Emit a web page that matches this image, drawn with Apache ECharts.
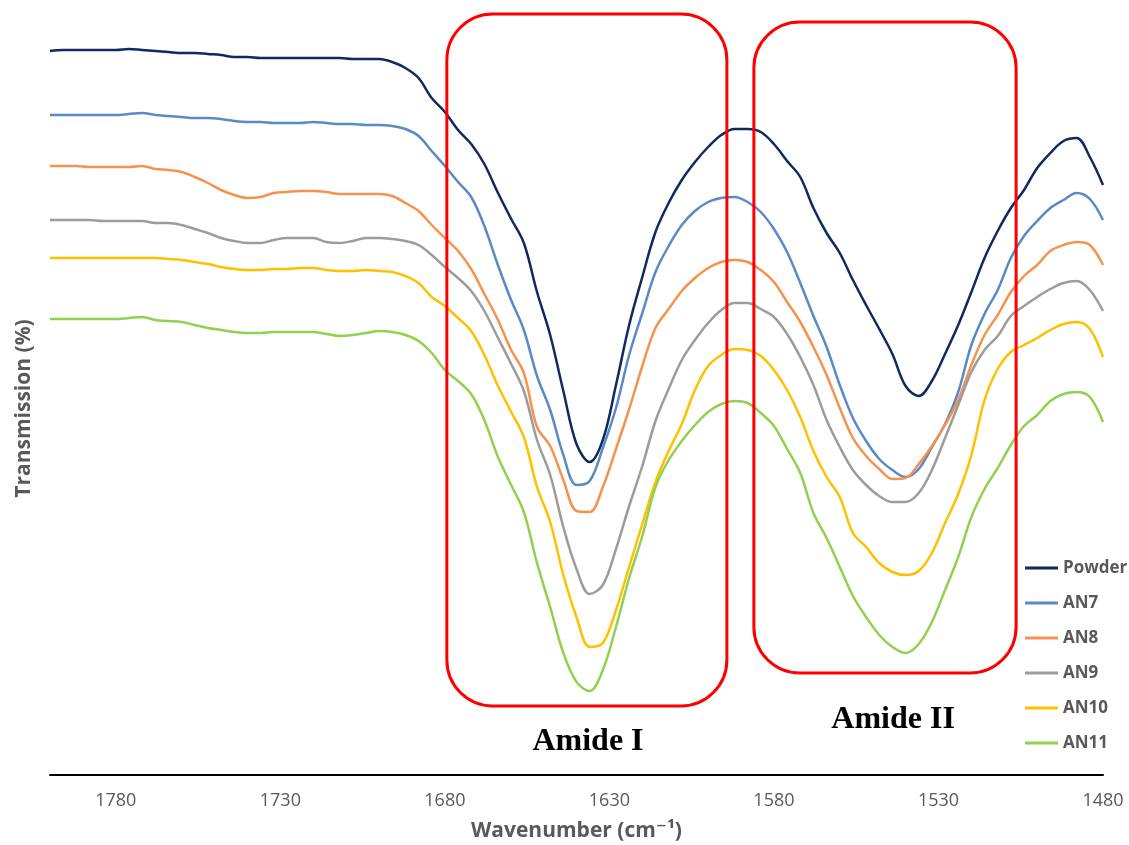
<!DOCTYPE html>
<html>
<head>
<meta charset="utf-8">
<script src="https://cdn.jsdelivr.net/npm/echarts@6/dist/echarts.min.js"></script>
<style>
  html, body { margin: 0; padding: 0; background: #ffffff; }
  #chart { width: 1129px; height: 845px; }
</style>
</head>
<body>
<div id="chart"></div>
<script>
// FTIR spectra, wavenumber in cm^-1 (decreasing to the right)
const wavenumbers = [
  1800, 1796, 1792, 1788, 1784, 1780, 1776, 1772, 1768, 1764,
  1760, 1756, 1752, 1748, 1744, 1740, 1736, 1732, 1728, 1724,
  1720, 1716, 1712, 1708, 1704, 1700, 1696, 1692, 1688, 1684,
  1680, 1676, 1672, 1668, 1664, 1660, 1656, 1652, 1648, 1644,
  1640, 1636, 1632, 1628, 1624, 1620, 1616, 1612, 1608, 1604,
  1600, 1596, 1592, 1588, 1584, 1580, 1576, 1572, 1568, 1564,
  1560, 1556, 1552, 1548, 1544, 1540, 1536, 1532, 1528, 1524,
  1520, 1516, 1512, 1508, 1504, 1500, 1496, 1492, 1488, 1484,
  1480
];

// Transmission traces (offset, arbitrary units)
const powder = [
  724, 725, 725, 725, 725, 725, 726, 725, 724, 723,
  722, 722, 721, 720, 718, 718, 717, 717, 717, 717,
  717, 717, 717, 716, 716, 716, 713, 707, 697, 677,
  663, 645, 631, 611, 583, 557, 532, 483, 440, 384,
  331, 313, 335, 390, 450, 498, 543, 572, 595, 613,
  628, 640, 646, 646, 643, 631, 614, 598, 567, 542,
  522, 495, 470, 446, 421, 389, 379, 394, 421, 450,
  483, 517, 544, 567, 585, 607, 622, 634, 637, 618,
  590
];
const an7 = [
  660, 660, 660, 660, 660, 660, 661, 662, 660, 659,
  658, 657, 657, 656, 654, 653, 653, 652, 652, 652,
  653, 652, 651, 651, 650, 650, 649, 646, 639, 624,
  609, 593, 578, 549, 511, 476, 445, 399, 365, 320,
  290, 294, 327, 367, 420, 462, 503, 529, 550, 564,
  573, 577, 578, 573, 563, 546, 523, 492, 459, 428,
  390, 357, 334, 316, 305, 298, 306, 328, 351, 383,
  430, 461, 485, 517, 539, 554, 567, 575, 582, 576,
  555
];
const an8 = [
  609, 609, 609, 608, 608, 608, 608, 609, 606, 605,
  603, 598, 592, 585, 580, 577, 578, 582, 583, 584,
  584, 583, 581, 581, 581, 581, 579, 572, 564, 550,
  537, 524, 506, 481, 456, 426, 402, 348, 329, 295,
  264, 263, 288, 326, 366, 409, 447, 466, 484, 497,
  507, 513, 515, 513, 505, 493, 473, 453, 428, 400,
  367, 337, 319, 306, 296, 297, 311, 329, 350, 375,
  410, 440, 460, 483, 499, 510, 524, 530, 533, 530,
  510
];
const an9 = [
  555, 555, 555, 555, 554, 554, 554, 554, 552, 552,
  550, 546, 542, 537, 534, 532, 532, 535, 537, 537,
  537, 533, 532, 534, 537, 537, 536, 534, 530, 520,
  508, 497, 484, 464, 438, 412, 384, 335, 300, 248,
  206, 181, 190, 226, 269, 309, 354, 386, 415, 435,
  452, 465, 472, 472, 466, 458, 441, 418, 390, 355,
  328, 305, 290, 279, 273, 273, 282, 305, 337, 370,
  403, 425, 439, 459, 469, 478, 486, 492, 494, 485,
  464
];
const an10 = [
  517, 517, 517, 517, 517, 517, 517, 517, 517, 516,
  515, 513, 511, 508, 506, 505, 505, 506, 506, 507,
  507, 505, 504, 504, 505, 504, 503, 499, 492, 478,
  469, 457, 444, 420, 390, 364, 338, 288, 253, 200,
  158, 128, 132, 165, 208, 251, 293, 324, 351, 385,
  409, 420, 426, 425, 419, 405, 385, 358, 324, 298,
  278, 242, 228, 212, 203, 200, 204, 222, 252, 281,
  320, 375, 406, 423, 430, 437, 445, 451, 453, 446,
  418
];
const an11 = [
  456, 456, 456, 456, 456, 456, 457, 458, 455, 454,
  453, 450, 447, 445, 443, 442, 442, 443, 443, 443,
  443, 441, 439, 440, 442, 444, 443, 440, 434, 422,
  405, 394, 381, 355, 319, 291, 263, 212, 168, 122,
  93, 84, 105, 148, 197, 239, 288, 315, 334, 350,
  363, 371, 374, 372, 362, 349, 326, 302, 262, 237,
  208, 179, 158, 140, 128, 122, 131, 153, 185, 218,
  258, 286, 307, 330, 349, 360, 374, 381, 383, 378,
  353
];

const seriesNames = ['Powder', 'AN7', 'AN8', 'AN9', 'AN10', 'AN11'];
const seriesValues = [powder, an7, an8, an9, an10, an11];
const seriesColors = ['#10295e', '#5a8ac6', '#f5934e', '#9c9c9c', '#ffc000', '#92d050'];

const xTickLabels = [1780, 1730, 1680, 1630, 1580, 1530, 1480];

// Highlighted band regions (wavenumber span, transmission span, label anchor)
const regionNames = ['Amide I', 'Amide II'];
const regionFrom = [1679.4, 1586.1];
const regionTo = [1594.3, 1506.4];
const regionHigh = [761, 753];
const regionLow = [69, 102];
const regionLabelX = [1636.5, 1543.8];
const regionLabelY = [33, 55];

const uiFont = '"Open Sans", "DejaVu Sans", sans-serif';

const lineSeries = seriesNames.map((name, i) => ({
  name: name,
  type: 'line',
  data: wavenumbers.map((w, k) => [w, seriesValues[i][k]]),
  showSymbol: false,
  smooth: 0.35,
  z: 2,
  lineStyle: { width: 2.5, color: seriesColors[i] },
  itemStyle: { color: seriesColors[i] }
}));

const regionSeries = {
  type: 'custom',
  silent: true,
  z: 5,
  data: regionNames.map((n, i) => [
    regionFrom[i], regionTo[i], regionHigh[i], regionLow[i], regionLabelX[i], regionLabelY[i]
  ]),
  encode: { x: [0, 1, 4], y: [2, 3, 5] },
  renderItem: function (params, api) {
    const a = api.coord([api.value(0), api.value(2)]);
    const b = api.coord([api.value(1), api.value(3)]);
    const t = api.coord([api.value(4), api.value(5)]);
    return {
      type: 'group',
      children: [
        {
          type: 'rect',
          shape: {
            x: Math.min(a[0], b[0]),
            y: Math.min(a[1], b[1]),
            width: Math.abs(b[0] - a[0]),
            height: Math.abs(b[1] - a[1]),
            r: 46
          },
          style: { fill: 'none', stroke: '#ff0000', lineWidth: 3 }
        },
        {
          type: 'text',
          x: t[0],
          y: t[1],
          style: {
            text: regionNames[params.dataIndex],
            fill: '#000000',
            font: 'bold 32px "Liberation Serif", "Times New Roman", serif',
            align: 'center',
            verticalAlign: 'middle'
          }
        }
      ]
    };
  }
};

const chart = echarts.init(document.getElementById('chart'), null, { renderer: 'canvas' });
chart.setOption({
  animation: false,
  backgroundColor: '#ffffff',
  grid: { left: 50, right: 26, top: 10, bottom: 70, outerBoundsMode: 'none', containLabel: false },
  legend: {
    data: seriesNames,
    orient: 'vertical',
    left: 1025,
    top: 558,
    padding: 0,
    icon: 'rect',
    itemWidth: 33,
    itemHeight: 3,
    itemGap: 15,
    textStyle: {
      color: '#595959',
      fontSize: 17,
      fontWeight: 'bold',
      fontFamily: uiFont,
      lineHeight: 20
    }
  },
  xAxis: {
    type: 'value',
    min: 1480,
    max: 1800,
    inverse: true,
    name: 'Wavenumber (cm⁻¹)',
    nameLocation: 'middle',
    nameGap: 46,
    nameTextStyle: { color: '#595959', fontSize: 21, fontWeight: 'bold', fontFamily: uiFont },
    axisLine: { show: true, onZero: false, lineStyle: { color: '#000000', width: 2 } },
    axisTick: { show: false },
    splitLine: { show: false },
    axisLabel: {
      customValues: xTickLabels,
      formatter: function (v) { return String(v); },
      color: '#595959',
      fontSize: 18,
      fontFamily: uiFont,
      margin: 17
    }
  },
  yAxis: {
    type: 'value',
    min: 0,
    max: 765,
    name: 'Transmission (%)',
    nameLocation: 'middle',
    nameGap: 15,
    nameTextStyle: {
      color: '#595959', fontSize: 21, fontWeight: 'bold', fontFamily: uiFont,
      padding: [0, 32, 0, 0]
    },
    axisLine: { show: false },
    axisTick: { show: false },
    axisLabel: { show: false },
    splitLine: { show: false }
  },
  series: lineSeries.concat([regionSeries])
});
</script>
</body>
</html>
